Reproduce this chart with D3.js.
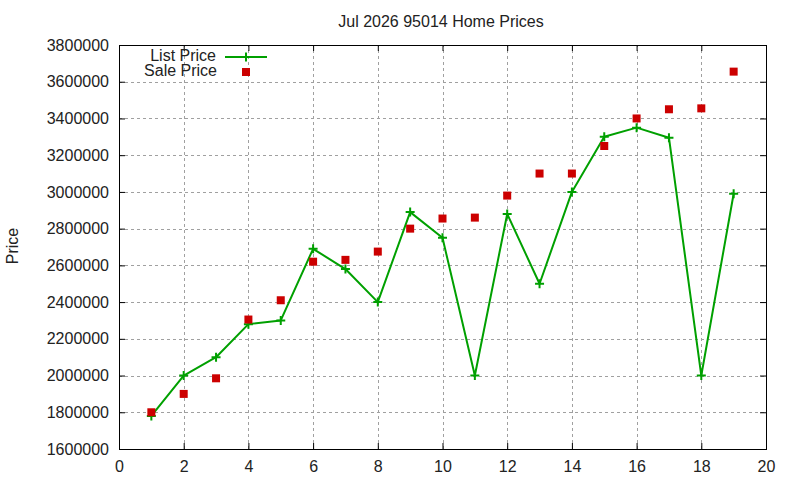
<!DOCTYPE html>
<html>
<head>
<meta charset="utf-8">
<script src="https://cdn.jsdelivr.net/npm/d3@7"></script>
<style>
  body { margin: 0; background: #fff; }
  svg { font-family: "Liberation Sans", Arial, sans-serif; }
</style>
</head>
<body>
<svg width="800" height="480"></svg>
<script>
var months = [1, 2, 3, 4, 5, 6, 7, 8, 9, 10, 11, 12, 13, 14, 15, 16, 17, 18, 19];
var listPrice = [1780000, 2000000, 2100000, 2280000, 2300000, 2690000, 2580000, 2400000, 2890000, 2750000,
                 2000000, 2880000, 2500000, 3000000, 3300000, 3350000, 3295000, 2000000, 2990000];
var salePrice = [1800000, 1900000, 1985000, 2305000, 2410000, 2620000, 2630000, 2675000, 2800000, 2855000,
                 2860000, 2980000, 3100000, 3100000, 3250000, 3400000, 3450000, 3455000, 3655000];
var xTicks = [0, 2, 4, 6, 8, 10, 12, 14, 16, 18, 20];
var yTicks = [1600000, 1800000, 2000000, 2200000, 2400000, 2600000, 2800000, 3000000, 3200000, 3400000, 3600000, 3800000];

var green = "#00a000", red = "#cc0000";

var svg = d3.select("svg");

var x = d3.scaleLinear().domain([0, 20]).range([119, 766]);
var y = d3.scaleLinear().domain([1600000, 3800000]).range([449, 45]);

// grid
var grid = svg.append("g")
    .attr("stroke", "#a0a0a0")
    .attr("stroke-width", 1)
    .attr("stroke-dasharray", "3,3");
grid.selectAll(".gx").data(xTicks.slice(1, -1)).enter().append("line")
    .attr("x1", function(d) { return Math.round(x(d)) + 0.5; })
    .attr("x2", function(d) { return Math.round(x(d)) + 0.5; })
    .attr("y1", y.range()[0])
    .attr("y2", y.range()[1]);
grid.selectAll(".gy").data(yTicks.slice(1, -1)).enter().append("line")
    .attr("y1", function(d) { return Math.round(y(d)) + 0.5; })
    .attr("y2", function(d) { return Math.round(y(d)) + 0.5; })
    .attr("x1", x.range()[0])
    .attr("x2", x.range()[1]);

// axes (ticks point inward, like gnuplot)
function styleAxis(g) {
  g.select(".domain").remove();
  g.selectAll(".tick line").attr("stroke", "#000");
  g.selectAll(".tick text").attr("fill", "#222").style("font-size", "16px");
}

svg.append("g")
    .attr("transform", "translate(" + x.range()[0] + ",0)")
    .call(d3.axisLeft(y).tickValues(yTicks).tickSize(-6).tickPadding(10).tickFormat(d3.format("d")))
    .call(styleAxis);

svg.append("g")
    .attr("transform", "translate(" + x.range()[1] + ",0)")
    .call(d3.axisRight(y).tickValues(yTicks).tickSize(-6).tickFormat(""))
    .call(styleAxis);

svg.append("g")
    .attr("transform", "translate(0," + y.range()[0] + ")")
    .call(d3.axisBottom(x).tickValues(xTicks).tickSize(-6).tickPadding(12).tickFormat(d3.format("d")))
    .call(styleAxis);

svg.append("g")
    .attr("transform", "translate(0," + y.range()[1] + ")")
    .call(d3.axisTop(x).tickValues(xTicks).tickSize(-6).tickFormat(""))
    .call(styleAxis);

svg.append("rect")
    .attr("x", x.range()[0] + 0.5)
    .attr("y", y.range()[1] + 0.5)
    .attr("width", x.range()[1] - x.range()[0])
    .attr("height", y.range()[0] - y.range()[1])
    .attr("fill", "none")
    .attr("stroke", "#000")
    .attr("stroke-width", 1);

// title and y label
svg.append("text")
    .attr("x", 441)
    .attr("y", 26.5)
    .attr("text-anchor", "middle")
    .attr("fill", "#222")
    .style("font-size", "16px")
    .text("Jul 2026 95014 Home Prices");

svg.append("text")
    .attr("transform", "translate(18,246) rotate(-90)")
    .attr("text-anchor", "middle")
    .attr("fill", "#222")
    .style("font-size", "16px")
    .text("Price");

// list price line
var listData = months.map(function(m, i) { return {m: m, v: listPrice[i]}; });
var saleData = months.map(function(m, i) { return {m: m, v: salePrice[i]}; });

var line = d3.line()
    .x(function(d) { return x(d.m); })
    .y(function(d) { return y(d.v); });

svg.append("path")
    .datum(listData)
    .attr("fill", "none")
    .attr("stroke", green)
    .attr("stroke-width", 2)
    .attr("stroke-linejoin", "round")
    .attr("d", line);

function plus(g, cx, cy) {
  g.append("path")
      .attr("d", "M" + (cx - 4.5) + "," + cy + "H" + (cx + 4.5) + "M" + cx + "," + (cy - 4.5) + "V" + (cy + 4.5))
      .attr("stroke", green)
      .attr("stroke-width", 2)
      .attr("fill", "none");
}

var plusG = svg.append("g");
listData.forEach(function(d) { plus(plusG, x(d.m), y(d.v)); });

// sale price squares
svg.append("g").selectAll("rect").data(saleData).enter().append("rect")
    .attr("x", function(d) { return x(d.m) - 4; })
    .attr("y", function(d) { return y(d.v) - 4; })
    .attr("width", 8)
    .attr("height", 8)
    .attr("fill", red);

// legend
var legend = svg.append("g").style("font-size", "16px").attr("fill", "#222");
legend.append("text").attr("x", 216).attr("y", 61).attr("text-anchor", "end").text("List Price");
legend.append("text").attr("x", 217).attr("y", 76).attr("text-anchor", "end").text("Sale Price");
legend.append("line")
    .attr("x1", 225).attr("x2", 267)
    .attr("y1", 57).attr("y2", 57)
    .attr("stroke", green)
    .attr("stroke-width", 2);
plus(legend, 246, 57);
legend.append("rect")
    .attr("x", 242).attr("y", 68)
    .attr("width", 8).attr("height", 8)
    .attr("fill", red);
</script>
</body>
</html>
